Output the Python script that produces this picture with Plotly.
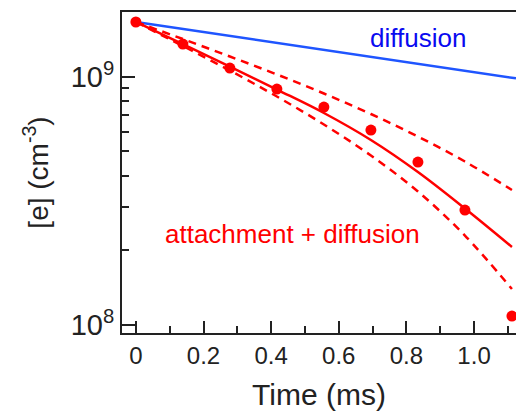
import plotly.graph_objects as go

# ---- data ----
t_data = [0, 0.139, 0.278, 0.417, 0.556, 0.695, 0.834, 0.973, 1.112]
e_data = [1.661e9, 1.354e9, 1.084e9, 8.92e8, 7.55e8, 6.10e8, 4.53e8, 2.905e8, 1.087e8]

t_fit = [0, 0.139, 0.278, 0.417, 0.556, 0.695, 0.834, 0.973, 1.112]
e_fit = [1.661e9, 1.354e9, 1.099e9, 8.88e8, 7.144e8, 5.561e8, 4.132e8, 2.946e8, 2.062e8]
e_fit_hi = [1.661e9, 1.418e9, 1.206e9, 1.021e9, 8.557e8, 7.077e8, 5.744e8, 4.555e8, 3.497e8]
e_fit_lo = [1.661e9, 1.329e9, 1.059e9, 8.323e8, 6.420e8, 4.815e8, 3.449e8, 2.293e8, 1.396e8]

t_diff = [0, 0.2, 0.4, 0.6, 0.8, 1.0, 1.124]
e_diff = [1.661e9, 1.514e9, 1.379e9, 1.257e9, 1.146e9, 1.045e9, 0.985e9]

x_ticks = [0, 0.2, 0.4, 0.6, 0.8, 1.0]
x_ticklabels = ["0", "0.2", "0.4", "0.6", "0.8", "1.0"]
x_minor = [0.1, 0.3, 0.5, 0.7, 0.9, 1.1]
y_ticks = [1e8, 1e9]
y_ticklabels = ["10<sup>8</sup>", "10<sup>9</sup>"]
y_minor = [2e8, 3e8, 4e8, 5e8, 6e8, 7e8, 8e8, 9e8]

RED = "#ff0000"
BLUE_LINE = "#1f55ff"
BLUE_TEXT = "#0a0af0"
INK = "#222222"
FONT = "Arial, Liberation Sans, sans-serif"

fig = go.Figure()
fig.add_trace(go.Scatter(x=t_diff, y=e_diff, mode="lines",
                         line=dict(color=BLUE_LINE, width=2.5)))
fig.add_trace(go.Scatter(x=t_fit, y=e_fit_hi, mode="lines", line_shape="spline",
                         line=dict(color=RED, width=2.5, dash="8px,6px")))
fig.add_trace(go.Scatter(x=t_fit, y=e_fit_lo, mode="lines", line_shape="spline",
                         line=dict(color=RED, width=2.5, dash="8px,6px")))
fig.add_trace(go.Scatter(x=t_fit, y=e_fit, mode="lines", line_shape="spline",
                         line=dict(color=RED, width=2.5)))
fig.add_trace(go.Scatter(x=t_data, y=e_data, mode="markers",
                         marker=dict(color=RED, size=11)))

fig.add_annotation(x=0.835, y=9.155, xref="x", yref="y", text="diffusion",
                   showarrow=False, font=dict(color=BLUE_TEXT, size=26, family=FONT),
                   xanchor="center", yanchor="middle")
fig.add_annotation(x=0.463, y=8.365, xref="x", yref="y", text="attachment + diffusion",
                   showarrow=False, font=dict(color=RED, size=26, family=FONT),
                   xanchor="center", yanchor="middle")

fig.update_layout(
    width=516, height=411,
    margin=dict(l=122, r=0, t=12, b=78, autoexpand=False),
    paper_bgcolor="white", plot_bgcolor="white",
    showlegend=False,
    font=dict(family=FONT, color=INK),
)
fig.update_xaxes(
    range=[-0.041, 1.124],
    tickmode="array", tickvals=x_ticks, ticktext=x_ticklabels,
    ticks="inside", ticklen=12, tickwidth=2, tickcolor=INK,
    minor=dict(tickmode="array", tickvals=x_minor, ticks="inside", ticklen=7,
               tickwidth=2, tickcolor=INK, showgrid=False),
    showline=True, linewidth=2, linecolor=INK, mirror=True,
    showgrid=False, zeroline=False,
    tickfont=dict(size=24, family=FONT, color=INK),
    title=dict(text="Time (ms)", font=dict(size=30, family=FONT, color=INK), standoff=21),
)
fig.update_yaxes(
    type="log", range=[7.968, 9.2606],
    tickmode="array", tickvals=y_ticks, ticktext=y_ticklabels,
    ticks="inside", ticklen=13, tickwidth=2, tickcolor=INK,
    minor=dict(tickmode="array", tickvals=y_minor, ticks="inside", ticklen=7,
               tickwidth=2, tickcolor=INK, showgrid=False),
    showline=True, linewidth=2, linecolor=INK,
    showgrid=False, zeroline=False,
    tickfont=dict(size=29, family=FONT, color=INK),
    title=dict(text="[e] (cm<sup>-3</sup>)", font=dict(size=28, family=FONT, color=INK), standoff=14),
)

fig.write_html("out.html", config={"displayModeBar": False},
               post_script="document.body.style.margin='0';document.body.style.overflow='hidden';")
